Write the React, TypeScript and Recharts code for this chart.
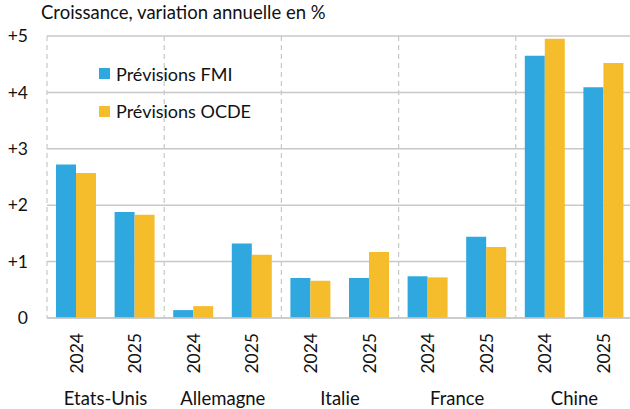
import React from "react";
import { BarChart, Bar, XAxis, YAxis, CartesianGrid, Legend } from "recharts";

const countries = ["Etats-Unis", "Allemagne", "Italie", "France", "Chine"];
const years = ["2024", "2025"];
const fmiValues = [2.72, 1.88, 0.14, 1.32, 0.71, 0.71, 0.74, 1.44, 4.65, 4.09];
const ocdeValues = [2.57, 1.83, 0.21, 1.12, 0.66, 1.17, 0.72, 1.26, 4.95, 4.52];
const yTicks = [0, 1, 2, 3, 4, 5];
const seriesNames = ["Prévisions FMI", "Prévisions OCDE"];
const title = "Croissance, variation annuelle en %";

const BLUE = "#2EA8DF";
const YELLOW = "#F5BC2B";
const GRID = "#c8c8c8";
const FONT = "Lato, 'Open Sans', sans-serif";
const TEXT = "#111";

const data = countries.flatMap((c, i) =>
  years.map((y, j) => ({
    year: y,
    country: c,
    fmi: fmiValues[i * 2 + j],
    ocde: ocdeValues[i * 2 + j],
  }))
);

const YearTick = (props: any) => {
  const { x, y, payload } = props;
  return (
    <g transform={`translate(${x},${y + 13}) rotate(-90)`}>
      <text x={0} y={0} dy="0.36em" textAnchor="end" fill={TEXT} fontSize={17.5} fontFamily={FONT}>
        {payload.value}
      </text>
    </g>
  );
};

const CountryTick = (props: any) => {
  const { x, y, payload } = props;
  return (
    <text x={x} y={y + 25} textAnchor="middle" fill={TEXT} fontSize={18.5} fontFamily={FONT}>
      {payload.value}
    </text>
  );
};

const LegendContent = () => (
  <div style={{ fontFamily: FONT, fontSize: 18, color: TEXT }}>
    {seriesNames.map((n, i) => (
      <div key={n} style={{ display: "flex", alignItems: "center", height: 37.5 }}>
        <span style={{ display: "inline-block", width: 11, height: 11, background: i === 0 ? BLUE : YELLOW, marginRight: 6 }} />
        <span>{n}</span>
      </div>
    ))}
  </div>
);

export default function App() {
  return (
    <div style={{ position: "fixed", left: 0, top: 0, width: 630, height: 409, overflow: "hidden", background: "#fff" }}>
      <div style={{ position: "absolute", left: 41, top: 1, fontFamily: FONT, fontSize: 18.5, color: TEXT, whiteSpace: "nowrap" }}>
        {title}
      </div>
      <BarChart
        width={640}
        height={409}
        data={data}
        margin={{ top: 36, right: 7, bottom: 0, left: 0 }}
        barGap={0}
        barSize={20}
      >
        <CartesianGrid horizontal={true} vertical={false} stroke={GRID} strokeWidth={1.5} />
        <CartesianGrid
          horizontal={false}
          vertical={true}
          stroke={GRID}
          strokeWidth={1.2}
          strokeDasharray="5 4"
          verticalCoordinatesGenerator={({ offset }: any) =>
            countries.map((_, i) => offset.left + (i * offset.width) / countries.length)
          }
        />
        <XAxis
          dataKey="year"
          height={60}
          tick={<YearTick />}
          tickLine={false}
          tickSize={0}
          axisLine={{ stroke: GRID, strokeWidth: 1.5 }}
          interval={0}
        />
        <XAxis
          xAxisId="country"
          dataKey="country"
          allowDuplicatedCategory={false}
          height={31}
          tick={<CountryTick />}
          tickLine={false}
          tickSize={0}
          axisLine={false}
          interval={0}
        />
        <YAxis
          width={47}
          domain={[0, 5]}
          ticks={yTicks}
          tickFormatter={(v: number) => (v === 0 ? "0" : `+${v}`)}
          axisLine={false}
          tickLine={false}
          tickSize={0}
          tickMargin={19}
          tick={{ fill: TEXT, fontSize: 17.5, fontFamily: FONT }}
          interval={0}
        />
        <Legend
          layout="vertical"
          align="center"
          verticalAlign="middle"
          content={<LegendContent />}
          wrapperStyle={{ left: 99, top: 55, width: 220, height: 80 }}
        />
        <Bar dataKey="fmi" name={seriesNames[0]} fill={BLUE} isAnimationActive={false} />
        <Bar dataKey="ocde" name={seriesNames[1]} fill={YELLOW} isAnimationActive={false} />
      </BarChart>
    </div>
  );
}
